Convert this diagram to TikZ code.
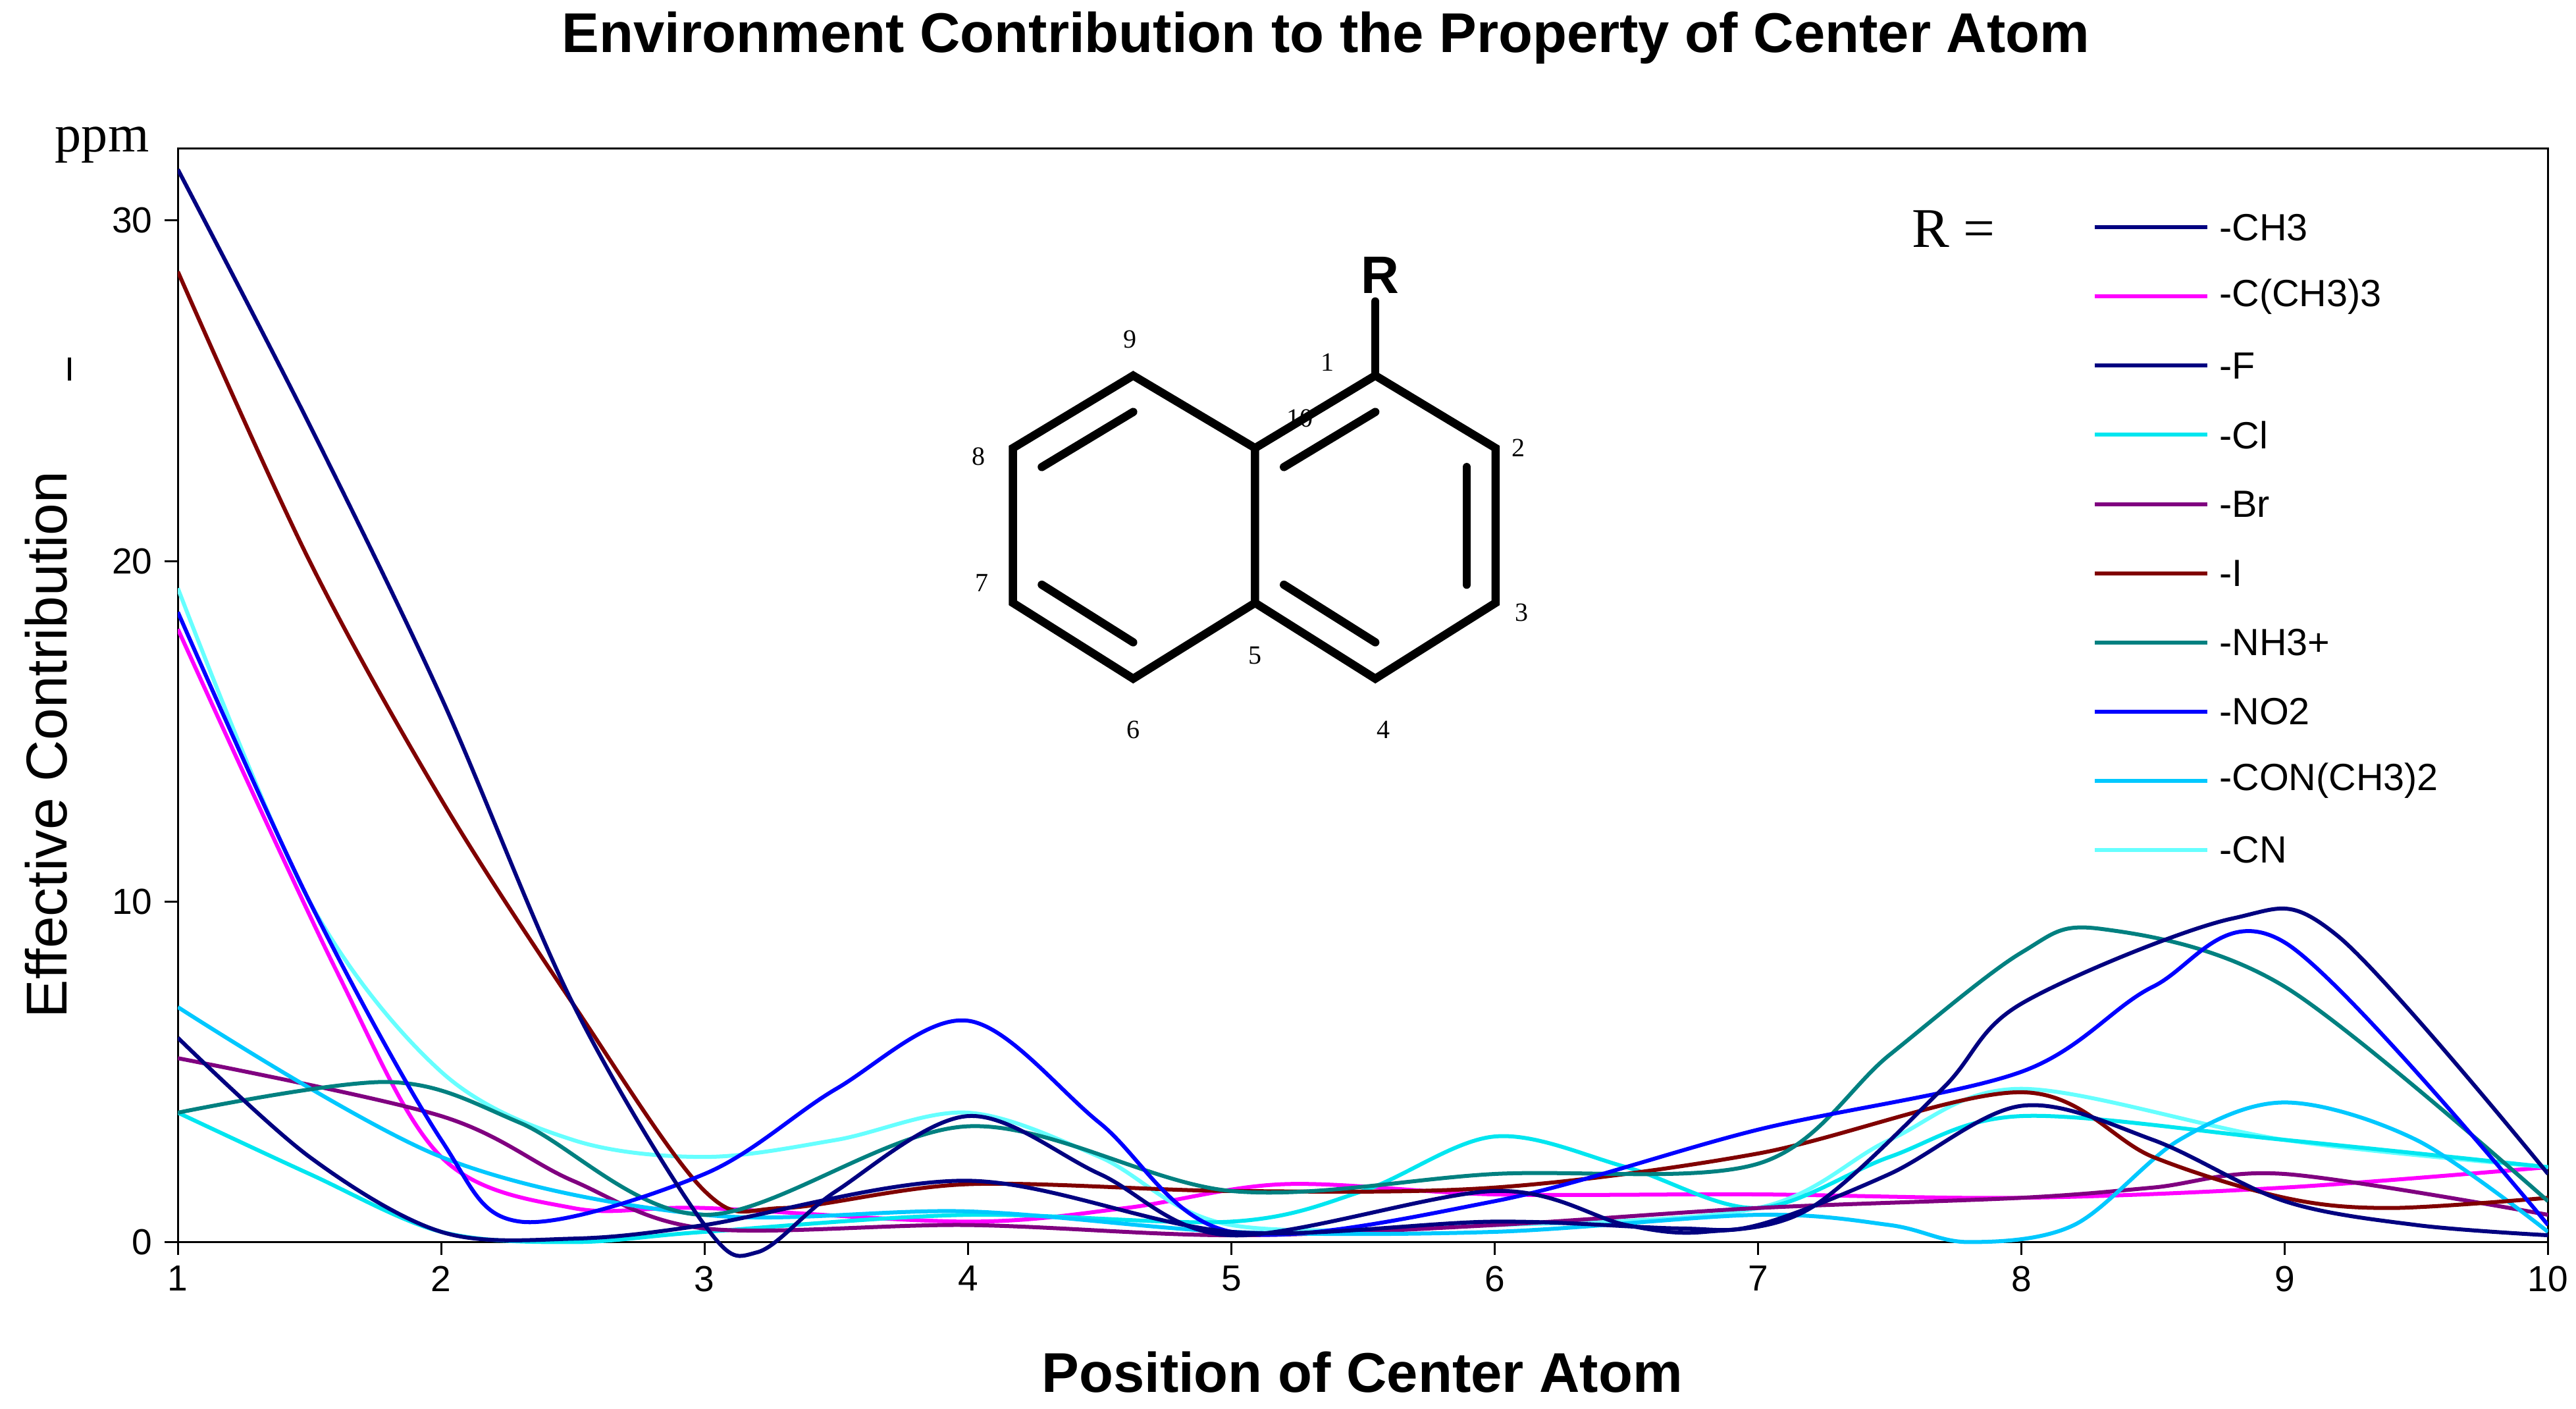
\documentclass[tikz,border=0pt]{standalone}
\usepackage{fontspec}
\setmainfont{Liberation Sans}
\newfontfamily\serifx{Liberation Serif}
\usetikzlibrary{calc}
\begin{document}
\begin{tikzpicture}[x=1pt,y=1pt,
  crv/.style={line width=2.4pt,smooth,tension=0.55},
  ring/.style={line width=5pt,line join=miter,line cap=round},
  num/.style={font=\serifx\fontsize{16}{16}\selectfont},
  tick/.style={font=\fontsize{22}{22}\selectfont},
  leg/.style={font=\fontsize{23}{23}\selectfont,anchor=west}]
\definecolor{cnavy}{RGB}{0,0,128}
\definecolor{cmag}{RGB}{255,0,255}
\definecolor{ccl}{RGB}{0,230,240}
\definecolor{cbr}{RGB}{128,0,128}
\definecolor{ci}{RGB}{128,0,0}
\definecolor{cnh}{RGB}{0,128,128}
\definecolor{cno}{RGB}{0,0,255}
\definecolor{ccon}{RGB}{0,200,255}
\definecolor{ccn}{RGB}{102,255,255}
\useasboundingbox (0,0) rectangle (1564,855);
\fill[white] (0,0) rectangle (1564,855);
% frame
\draw[line width=1.2pt] (108,101) rectangle (1547,765);
% ticks
\foreach \i in {0,...,9}{\draw[line width=1.2pt] ({108+\i*159.89},101) -- ({108+\i*159.89},93);}
\foreach \i in {1,...,10}{\node[tick,anchor=north] (xt\i) at ({108+(\i-1)*159.89},90) {\i};}
\foreach \v in {0,10,20,30}{\draw[line width=1.2pt] (108,{101+\v*20.67}) -- (100,{101+\v*20.67});
  \node[tick,anchor=east] (yt\v) at (96,{101+\v*20.67}) {\v};}
\node[font=\serifx\fontsize{32}{32}\selectfont] (ppm) at (62,767) {ppm};
\draw[line width=2pt] (42,638) -- (42,624);
\node[font=\bfseries\fontsize{34}{34}\selectfont] (title) at (805,832) {Environment Contribution to the Property of Center Atom};
\node[font=\bfseries\fontsize{34}{34}\selectfont] (xlab) at (827,22) {Position of Center Atom};
\node[font=\fontsize{35}{35}\selectfont,rotate=90] (ylab) at (28,403) {Effective Contribution};
% curves
\begin{scope}[shift={(-51.89,101)},x=159.89pt,y=20.67pt]
\clip (1,-1) rectangle (10,33);
\draw[crv,cmag] plot coordinates {(1,18) (1.6,8) (2,2.5) (2.5,1) (3,1) (4,0.6) (4.6,1) (5.2,1.7) (6,1.4) (7,1.4) (8,1.3) (9,1.6) (10,2.2)};
\draw[crv,ccn] plot coordinates {(1,19.2) (1.5,10) (2,5) (2.5,3) (3,2.5) (3.5,3) (4,3.8) (4.5,2.5) (5,0.5) (6,0.5) (7,1) (7.5,3) (8,4.5) (9,3) (10,2.2)};
\draw[crv,ccl] plot coordinates {(1,3.8) (1.5,2) (2,0.3) (2.5,0) (3,0.3) (4,0.8) (5,0.6) (5.5,1.5) (6,3.1) (6.5,2.2) (7,1) (7.5,2.5) (8,3.7) (9,3) (10,2.2)};
\draw[crv,cbr] plot coordinates {(1,5.4) (2,3.7) (2.5,1.8) (3,0.4) (4,0.5) (5,0.2) (6,0.5) (7,1) (8,1.3) (8.5,1.6) (9,2) (10,0.8)};
\draw[crv,ccon] plot coordinates {(1,6.9) (2,2.5) (3,0.8) (4,0.9) (5,0.3) (6,0.3) (7,0.8) (7.5,0.5) (7.8,0) (8.2,0.5) (8.6,3) (9,4.1) (9.5,3) (10,0.3)};
\draw[crv,ci] plot coordinates {(1,28.5) (1.5,20) (2,13) (2.5,7) (3,1.5) (3.3,1) (4,1.7) (5,1.5) (6,1.6) (7,2.6) (8,4.4) (8.5,2.5) (9,1.3) (9.4,1) (10,1.3)};
\draw[crv,cnh] plot coordinates {(1,3.8) (1.8,4.7) (2.3,3.5) (3,0.8) (4,3.4) (5,1.5) (6,2) (7,2.3) (7.5,5.5) (8,8.5) (8.3,9.2) (9,7.5) (10,1.2)};
\draw[crv,cno] plot coordinates {(1,18.5) (1.5,10) (2,3) (2.3,0.6) (3,2) (3.5,4.5) (4,6.5) (4.5,3.5) (5,0.3) (6,1.2) (7,3.3) (8,5) (8.5,7.5) (9,8.8) (10,0.5)};
\draw[crv,cnavy] plot coordinates {(1,6) (1.5,2.5) (2,0.3) (2.5,0.1) (3,0.5) (4,1.8) (5,0.3) (6,0.6) (6.7,0.4) (7,0.5) (7.5,2) (8,4) (8.5,3) (9,1.2) (9.5,0.5) (10,0.2)};
\draw[crv,cnavy] plot coordinates {(1,31.5) (1.5,24) (2,16) (2.5,7) (3,0.5) (3.2,-0.3) (3.5,1.5) (4,3.7) (4.5,2) (5,0.2) (6,1.5) (6.5,0.5) (6.8,0.3) (7.2,1) (7.7,4.5) (8,7) (8.8,9.5) (9.2,9) (10,2)};
\end{scope}
% legend
\node[font=\serifx\fontsize{34}{34}\selectfont] (req) at (1186,716) {R =};
\foreach \c/\t [count=\k from 0] in {cnavy/-CH3,cmag/-C(CH3)3,cnavy/-F,ccl/-Cl,cbr/-Br,ci/-I,cnh/-NH3+,cno/-NO2,ccon/-CON(CH3)2,ccn/-CN}{
  \coordinate (la\k) at (1272,{717-\k*42});
  \coordinate (lb\k) at (1340,{717-\k*42});
  \draw[line width=2.4pt,\c] (la\k) -- (lb\k);
  \node[leg] (lt\k) at (1344,{717-\k*42}) {\t};}
% molecule
\coordinate (a1) at (835,627);
\coordinate (a2) at (908,583);
\coordinate (a3) at (908,489);
\coordinate (a4) at (835,443);
\coordinate (a5) at (762,489);
\coordinate (a10) at (762,583);
\coordinate (a9) at (688,627);
\coordinate (a8) at (615,583);
\coordinate (a7) at (615,489);
\coordinate (a6) at (688,443);
\coordinate (aR) at (835,672);
\coordinate (cR) at (835,535);
\coordinate (cL) at (688,535);
\draw[ring] (a1)--(a2)--(a3)--(a4)--(a5)--(a10)--cycle;
\draw[ring] (a10)--(a9)--(a8)--(a7)--(a6)--(a5);
\draw[ring] (a1)--(aR);
\foreach \p/\q in {a1/a10,a2/a3,a4/a5}{\draw[ring] ($(cR)!0.76!(\p)$) -- ($(cR)!0.76!(\q)$);}
\foreach \p/\q in {a9/a8,a7/a6}{\draw[ring] ($(cL)!0.76!(\p)$) -- ($(cL)!0.76!(\q)$);}
\node[font=\bfseries\fontsize{32}{32}\selectfont] (R) at (838,688) {R};
\node[num] (n9) at (686,649) {9};
\node[num] (n1) at (806,635) {1};
\node[num] (n10) at (789,601) {10};
\node[num] (n2) at (922,583) {2};
\node[num] (n8) at (594,578) {8};
\node[num] (n7) at (596,501) {7};
\node[num] (n3) at (924,483) {3};
\node[num] (n5) at (762,457) {5};
\node[num] (n6) at (688,412) {6};
\node[num] (n4) at (840,412) {4};
\end{tikzpicture}
\end{document}
